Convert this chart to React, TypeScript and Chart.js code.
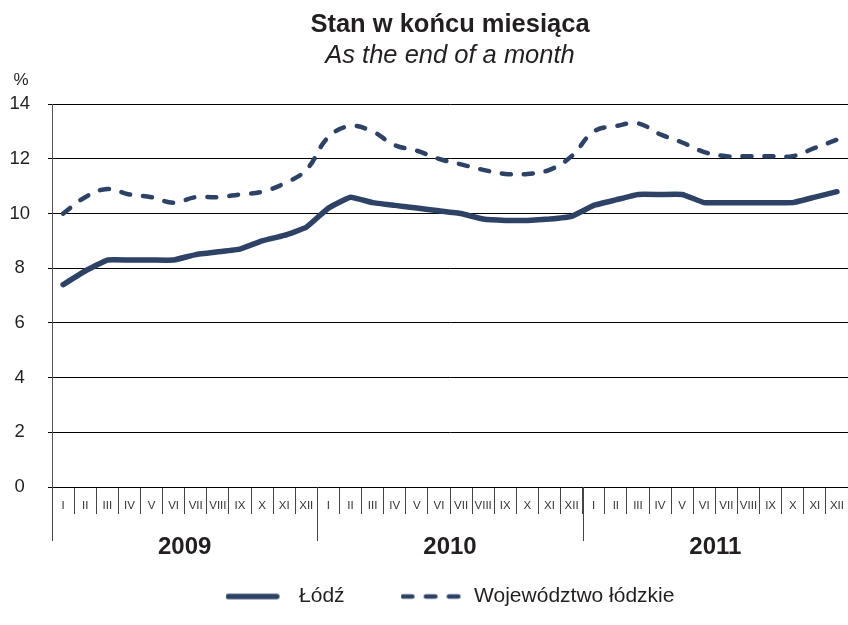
import React, { useEffect, useRef } from "react";
import { Chart, registerables } from "chart.js";

Chart.register(...registerables);

const months: string[] = ["I", "II", "III", "IV", "V", "VI", "VII", "VIII", "IX", "X", "XI", "XII"];
const years: string[] = ["2009", "2010", "2011"];
const categories: string[] = years.flatMap(() => months);

const lodz: number[] = [
  7.4, 7.9, 8.3, 8.3, 8.3, 8.3, 8.5, 8.6, 8.7, 9.0, 9.2, 9.5,
  10.2, 10.6, 10.4, 10.3, 10.2, 10.1, 10.0, 9.8, 9.75, 9.75, 9.8, 9.9,
  10.3, 10.5, 10.7, 10.7, 10.7, 10.4, 10.4, 10.4, 10.4, 10.4, 10.6, 10.8,
];
const wojewodztwo: number[] = [
  10.0, 10.6, 10.9, 10.7, 10.6, 10.4, 10.6, 10.6, 10.7, 10.8, 11.1, 11.6,
  12.8, 13.2, 13.0, 12.5, 12.3, 12.0, 11.8, 11.6, 11.45, 11.45, 11.6, 12.1,
  13.0, 13.2, 13.3, 12.9, 12.6, 12.25, 12.1, 12.1, 12.1, 12.1, 12.4, 12.7,
];

const seriesNames: string[] = ["Łódź", "Województwo łódzkie"];
const titleText = "Stan w końcu miesiąca";
const subtitleText = "As the end of a month";
const unitLabel = "%";

const FONT = "'Liberation Sans', Arial, Helvetica, sans-serif";
const NAVY = "#2E4265";
const TEXT = "#231f20";

const LEGEND_BOX = 63;

function legendSwatch(width: number, length: number, dash: number[]): HTMLCanvasElement {
  const c = document.createElement("canvas");
  c.width = LEGEND_BOX;
  c.height = 10;
  const g = c.getContext("2d")!;
  g.strokeStyle = NAVY;
  g.lineWidth = width;
  g.lineCap = "round";
  g.setLineDash(dash);
  g.beginPath();
  g.moveTo(width / 2, 5);
  g.lineTo(length - width / 2, 5);
  g.stroke();
  return c;
}

const decorPlugin = {
  id: "decor",
  afterDraw(chart: any) {
    const ctx = chart.ctx as CanvasRenderingContext2D;
    const xs = chart.scales.x;
    const area = chart.chartArea;
    ctx.save();
    ctx.fillStyle = TEXT;
    ctx.font = `17px ${FONT}`;
    ctx.textAlign = "center";
    ctx.textBaseline = "middle";
    ctx.fillText(unitLabel, 21, area.top - 24);
    ctx.strokeStyle = "#444";
    ctx.lineWidth = 1;
    const n = months.length;
    for (let y = 0; y < years.length; y++) {
      const px = Math.round(xs.getPixelForValue(y * n - 0.5)) + 0.5;
      ctx.beginPath();
      ctx.moveTo(px, area.bottom);
      ctx.lineTo(px, area.bottom + 54);
      ctx.stroke();
    }
    ctx.font = `bold 24px ${FONT}`;
    years.forEach((yr, i) => {
      const a = xs.getPixelForValue(i * n - 0.5);
      const b = xs.getPixelForValue((i + 1) * n - 0.5);
      ctx.fillText(yr, (a + b) / 2, area.bottom + 60);
    });
    ctx.restore();
  },
};

export default function App() {
  const ref = useRef<HTMLCanvasElement | null>(null);
  useEffect(() => {
    document.body.style.margin = "0";
    if (!ref.current) return;
    const chart = new Chart(ref.current, {
      type: "line",
      data: {
        labels: categories,
        datasets: [
          {
            label: seriesNames[0],
            data: lodz,
            borderColor: NAVY,
            backgroundColor: NAVY,
            borderWidth: 5.5,
            pointRadius: 0,
            pointHoverRadius: 0,
            pointStyle: legendSwatch(5.5, 54, []),
            tension: 0.1,
            borderCapStyle: "round",
            borderJoinStyle: "round",
          },
          {
            label: seriesNames[1],
            data: wojewodztwo,
            borderColor: NAVY,
            backgroundColor: NAVY,
            borderWidth: 4.5,
            borderDash: [9, 13],
            pointRadius: 0,
            pointHoverRadius: 0,
            pointStyle: legendSwatch(4.5, 60, [9.5, 13.5]),
            tension: 0.4,
            borderCapStyle: "round",
          },
        ],
      },
      options: {
        responsive: false,
        animation: false,
        devicePixelRatio: 1,
        layout: { padding: { top: 0, right: 0, bottom: 8, left: 0 } },
        plugins: {
          title: {
            display: true,
            text: titleText,
            fullSize: false,
            color: TEXT,
            font: { family: FONT, size: 25.5, weight: "bold" },
            padding: { top: 10, bottom: 0 },
          },
          subtitle: {
            display: true,
            text: subtitleText,
            fullSize: false,
            color: TEXT,
            font: { family: FONT, size: 25.5, style: "italic" },
            padding: { top: 0, bottom: 33 },
          },
          legend: {
            position: "bottom",
            fullSize: false,
            labels: {
              usePointStyle: true,
              pointStyleWidth: LEGEND_BOX,
              color: TEXT,
              font: { family: FONT, size: 21 },
              padding: 56,
            },
          },
          tooltip: { enabled: false },
        },
        scales: {
          x: {
            offset: true,
            grid: {
              offset: true,
              drawOnChartArea: false,
              drawTicks: true,
              tickLength: 27,
              color: "#444",
              tickColor: "#444",
            },
            border: { display: true, color: "#000" },
            ticks: {
              autoSkip: false,
              maxRotation: 0,
              minRotation: 0,
              padding: -15,
              color: "#333",
              font: { family: FONT, size: 11.5 },
            },
            afterFit: (s: any) => {
              s.height = 43;
            },
          },
          y: {
            min: 0,
            max: 14,
            ticks: {
              stepSize: 2,
              crossAlign: "center",
              padding: 18,
              color: TEXT,
              font: { family: FONT, size: 18.5 },
            },
            grid: { color: "#000", lineWidth: 1, drawTicks: true, tickLength: 4, tickColor: "#000" },
            border: { display: true, color: "#555" },
            afterFit: (s: any) => {
              s.width = 52;
            },
          },
        },
      },
      plugins: [decorPlugin],
    } as any);
    return () => chart.destroy();
  }, []);
  return <canvas ref={ref} width={848} height={625} style={{ display: "block" }} />;
}
